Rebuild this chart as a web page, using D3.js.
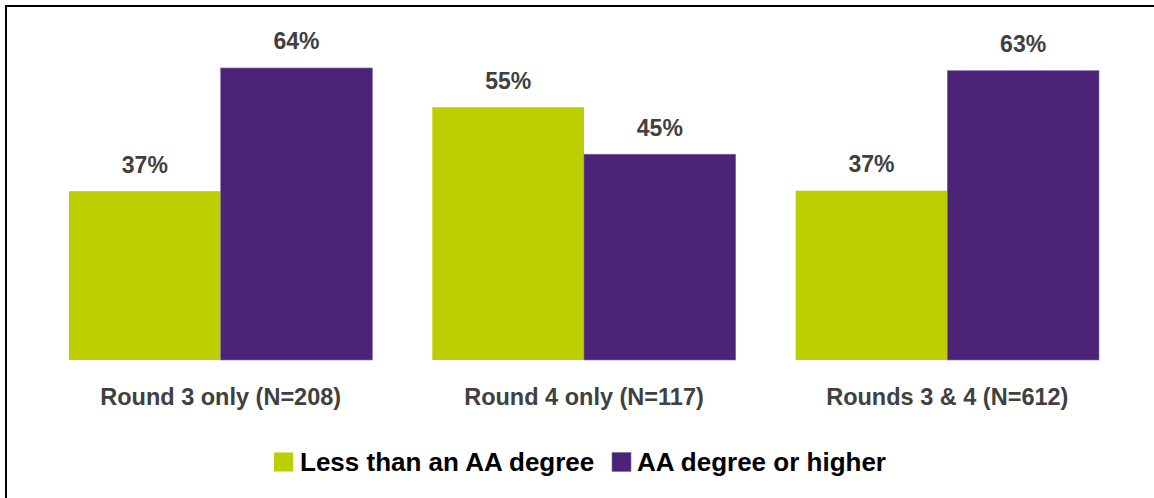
<!DOCTYPE html>
<html>
<head>
<meta charset="utf-8">
<script src="https://cdn.jsdelivr.net/npm/d3@7"></script>
<style>
  html, body { margin: 0; padding: 0; background: #fff; }
  svg { display: block; font-family: "Liberation Sans", Arial, sans-serif; }
</style>
</head>
<body>
<svg id="chart" width="1154" height="498"></svg>
<script>
const categories = ["Round 3 only (N=208)", "Round 4 only (N=117)", "Rounds 3 & 4 (N=612)"];
const seriesNames = ["Less than an AA degree", "AA degree or higher"];
// bar heights (labels show rounded percentages)
const lessThanAA = [37, 55.4, 37.1];
const aaOrHigher = [64, 45.1, 63.4];
const colors = ["#BCCF02", "#4B2477"];

const svg = d3.select("#chart");
const W = 1154, H = 498;

// frame
svg.append("line").attr("x1", 5).attr("x2", W).attr("y1", 6).attr("y2", 6)
  .attr("stroke", "#000").attr("stroke-width", 2);
svg.append("line").attr("x1", 6).attr("x2", 6).attr("y1", 5).attr("y2", H)
  .attr("stroke", "#000").attr("stroke-width", 2);

const x0 = d3.scaleBand().domain(categories).range([39, 1129])
  .paddingInner(0.165).paddingOuter(0.0826);
const x1 = d3.scaleBand().domain(seriesNames).range([0, x0.bandwidth()]).padding(0);
const y = d3.scaleLinear().domain([0, 70]).range([360, 40.6]);
const fmt = d => Math.round(d) + "%";

const data = categories.map((c, i) => ({
  cat: c,
  vals: [
    { key: seriesNames[0], v: lessThanAA[i] },
    { key: seriesNames[1], v: aaOrHigher[i] }
  ]
}));

const g = svg.append("g");
const groups = g.selectAll("g.grp").data(data).join("g")
  .attr("class", "grp")
  .attr("transform", d => `translate(${x0(d.cat)},0)`);

groups.selectAll("rect").data(d => d.vals).join("rect")
  .attr("x", d => x1(d.key))
  .attr("y", d => y(d.v))
  .attr("width", x1.bandwidth())
  .attr("height", d => y(0) - y(d.v))
  .attr("fill", (d, i) => colors[i])
  .attr("stroke", (d, i) => i === 1 ? "#7d6aa3" : "none")
  .attr("stroke-width", 0.6);

groups.selectAll("text.val").data(d => d.vals).join("text")
  .attr("class", "val")
  .attr("x", d => x1(d.key) + x1.bandwidth() / 2)
  .attr("y", d => y(d.v) - 18.5)
  .attr("text-anchor", "middle")
  .attr("font-size", "23px")
  .attr("font-weight", "bold")
  .attr("fill", "#404040")
  .text(d => fmt(d.v));

// category axis labels
const xAxis = d3.axisBottom(x0).tickSize(0).tickPadding(0);
const ax = svg.append("g").attr("transform", "translate(0,360)").call(xAxis);
ax.select(".domain").remove();
ax.selectAll("text")
  .attr("y", 45)
  .attr("dy", 0)
  .attr("font-size", "23.5px")
  .attr("font-weight", "bold")
  .attr("fill", "#404040")
  .attr("font-family", "Liberation Sans, Arial, sans-serif");

// legend
const legendX = [274, 612];
const legendTextX = [300, 637];
const leg = svg.append("g");
seriesNames.forEach((s, i) => {
  leg.append("rect").attr("x", legendX[i]).attr("y", 452.5).attr("width", 19).attr("height", 19)
    .attr("fill", colors[i])
    .attr("stroke", i === 1 ? "#7d6aa3" : "none").attr("stroke-width", 0.6);
  leg.append("text").attr("x", legendTextX[i]).attr("y", 471)
    .attr("font-size", "26px").attr("font-weight", "bold").attr("fill", "#000")
    .text(s);
});
</script>
</body>
</html>
